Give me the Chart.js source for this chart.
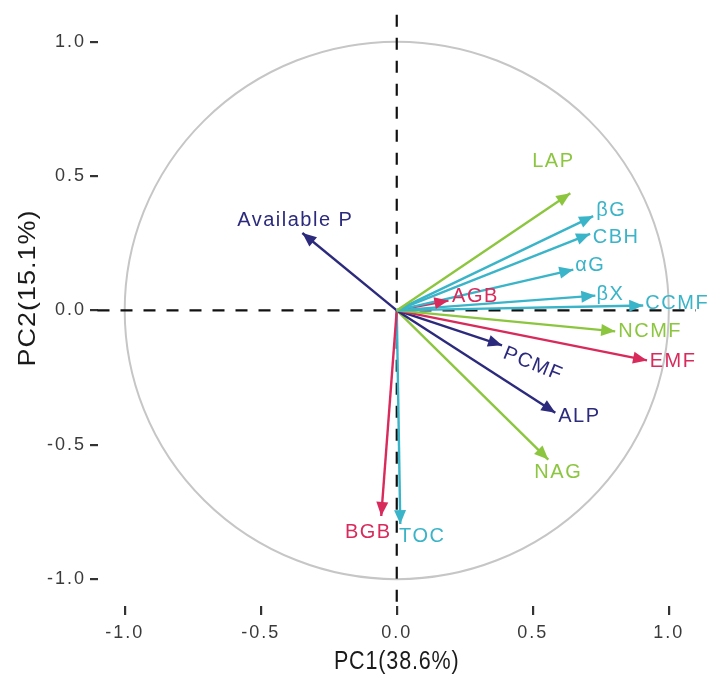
<!DOCTYPE html>
<html>
<head>
<meta charset="utf-8">
<script src="https://cdn.jsdelivr.net/npm/chart.js@4/dist/chart.umd.min.js"></script>
<style>
  html, body { margin: 0; padding: 0; background: #fff; }
</style>
</head>
<body>
<canvas id="pca" width="711" height="680"></canvas>
<script>
// loadings
const variables = ['LAP', 'βG', 'CBH', 'αG', 'βX', 'AGB', 'CCMF', 'NCMF', 'EMF', 'PCMF', 'ALP', 'NAG', 'Available P', 'BGB', 'TOC'];
const pc1 = [0.638, 0.722, 0.711, 0.649, 0.730, 0.190, 0.906, 0.803, 0.920, 0.387, 0.583, 0.557, -0.347, -0.057, 0.013];
const pc2 = [0.436, 0.351, 0.285, 0.152, 0.055, 0.037, 0.018, -0.078, -0.186, -0.130, -0.381, -0.555, 0.288, -0.765, -0.795];
const groups = ['N', 'C', 'C', 'C', 'C', 'B', 'C', 'N', 'B', 'P', 'P', 'N', 'P', 'B', 'C'];
const tickValues = [-1, -0.5, 0, 0.5, 1];
const xTitle = 'PC1(38.6%)';
const yTitle = 'PC2(15.1%)';

const groupColors = { N: '#8cc63f', C: '#3ab4c8', B: '#d92a5c', P: '#2c2a7c' };
// label placement relative to arrow tip (px) and rotation (deg)
const labelOffsets = [
  [-17, -32, 0], [18, -6, 0], [26, 4, 0], [17, -4, 0], [15, -1, 0], [27, -4, 0],
  [34, -2, 0], [35, 0, 0], [26, 1, 0], [31, 19, 22], [24, 4, 0], [10, 13, 0],
  [-7, -13, 0], [-13, 17, 0], [22, 12, 0]
];
const FONT = '"Liberation Sans", Arial, sans-serif';

Chart.defaults.font.family = FONT;

const datasets = variables.map((name, i) => ({
  label: name,
  data: [{ x: 0, y: 0 }, { x: pc1[i], y: pc2[i] }],
  showLine: true,
  borderColor: groupColors[groups[i]],
  backgroundColor: groupColors[groups[i]],
  borderWidth: 2.4,
  pointRadius: 0,
  pointHoverRadius: 0
}));

const biplotDecor = {
  id: 'biplotDecor',
  beforeDraw(chart) {
    chart.ctx.letterSpacing = '2px'; // spaced tick labels
  },
  beforeDatasetsDraw(chart) {
    const { ctx, chartArea, scales: { x, y } } = chart;
    const cx = x.getPixelForValue(0), cy = y.getPixelForValue(0);
    const rx = x.getPixelForValue(1) - cx, ry = cy - y.getPixelForValue(1);
    ctx.save();
    ctx.strokeStyle = '#c6c6c6';
    ctx.lineWidth = 2;
    ctx.beginPath();
    ctx.ellipse(cx, cy, rx, ry, 0, 0, Math.PI * 2);
    ctx.stroke();
    ctx.strokeStyle = '#111';
    ctx.lineWidth = 2.2;
    ctx.setLineDash([12, 11]);
    ctx.beginPath();
    ctx.moveTo(chartArea.left, cy);
    ctx.lineTo(chartArea.right, cy);
    ctx.moveTo(cx, chartArea.top);
    ctx.lineTo(cx, chartArea.bottom);
    ctx.stroke();
    ctx.restore();
  },
  afterDatasetsDraw(chart) {
    const { ctx, scales: { x, y } } = chart;
    const ox = x.getPixelForValue(0), oy = y.getPixelForValue(0);
    ctx.save();
    ctx.font = '20px ' + FONT;
    ctx.letterSpacing = '1.5px';
    ctx.textAlign = 'center';
    ctx.textBaseline = 'middle';
    variables.forEach((name, i) => {
      const color = groupColors[groups[i]];
      const tx = x.getPixelForValue(pc1[i]), ty = y.getPixelForValue(pc2[i]);
      const a = Math.atan2(ty - oy, tx - ox);
      const len = 14, hw = 6;
      ctx.fillStyle = color;
      ctx.beginPath();
      ctx.moveTo(tx, ty);
      ctx.lineTo(tx - len * Math.cos(a) + hw * Math.sin(a), ty - len * Math.sin(a) - hw * Math.cos(a));
      ctx.lineTo(tx - len * Math.cos(a) - hw * Math.sin(a), ty - len * Math.sin(a) + hw * Math.cos(a));
      ctx.closePath();
      ctx.fill();

      const [dx, dy, rot] = labelOffsets[i];
      ctx.save();
      ctx.translate(tx + dx, ty + dy);
      ctx.rotate(rot * Math.PI / 180);
      ctx.fillText(name, 0, 0);
      ctx.restore();
    });
    ctx.restore();
  },
  afterDraw(chart) {
    // axis titles, drawn here so their size/spacing can differ from the ticks
    const { ctx, chartArea } = chart;
    ctx.save();
    ctx.fillStyle = '#1a1a1a';
    ctx.textAlign = 'center';
    ctx.textBaseline = 'middle';
    ctx.font = '25px ' + FONT;
    ctx.letterSpacing = '1px';
    ctx.save();
    ctx.translate((chartArea.left + chartArea.right) / 2, 662);
    ctx.scale(0.86, 1);
    ctx.fillText(xTitle, 0, 0);
    ctx.restore();
    ctx.font = '27px ' + FONT;
    ctx.letterSpacing = '1px';
    ctx.save();
    ctx.translate(28, 288);
    ctx.rotate(-Math.PI / 2);
    ctx.scale(1, 0.9);
    ctx.fillText(yTitle, 0, 0);
    ctx.restore();
    ctx.restore();
  }
};

const setTicks = scale => { scale.ticks = tickValues.map(v => ({ value: v })); };

new Chart(document.getElementById('pca'), {
  type: 'scatter',
  data: { datasets },
  plugins: [biplotDecor],
  options: {
    responsive: false,
    animation: false,
    layout: { padding: { top: 11, right: 15, left: 0, bottom: 0 } },
    plugins: { legend: { display: false }, tooltip: { enabled: false } },
    scales: {
      x: {
        type: 'linear',
        min: -1.1,
        max: 1.1,
        afterBuildTicks: setTicks,
        afterFit: s => { s.height = 74; },
        border: { display: false },
        grid: { drawOnChartArea: false, drawTicks: true, tickLength: 9, tickColor: '#333', lineWidth: 2.2 },
        ticks: {
          color: '#3a3a3a',
          font: { size: 18 },
          padding: 7,
          maxRotation: 0,
          callback: v => v.toFixed(1)
        }
      },
      y: {
        type: 'linear',
        min: -1.1,
        max: 1.1,
        afterBuildTicks: setTicks,
        afterFit: s => { s.width = 97.5; },
        border: { display: false },
        grid: { drawOnChartArea: false, drawTicks: true, tickLength: 7.5, tickColor: '#333', lineWidth: 2.2 },
        ticks: {
          color: '#3a3a3a',
          font: { size: 18 },
          padding: 4,
          callback: v => v.toFixed(1)
        }
      }
    }
  }
});
</script>
</body>
</html>
